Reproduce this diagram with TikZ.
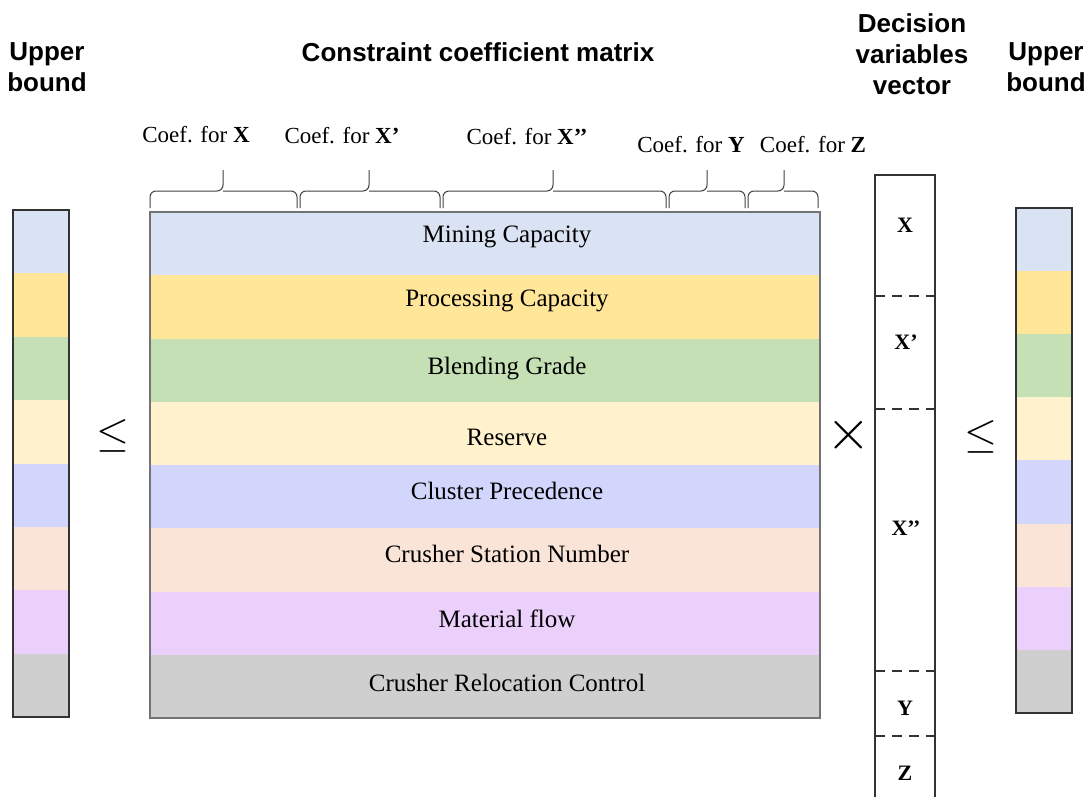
\documentclass[tikz,border=0pt]{standalone}
\usepackage{amsmath}
\usepackage{graphicx}
\usepackage{fontspec}
\setmainfont{Liberation Serif}
\newfontfamily\headfont{Liberation Sans}
\usetikzlibrary{calc}

\definecolor{rowA}{HTML}{DAE3F3}
\definecolor{rowB}{HTML}{FFE699}
\definecolor{rowC}{HTML}{C5E0B4}
\definecolor{rowD}{HTML}{FFF2CC}
\definecolor{rowE}{HTML}{D2D5FC}
\definecolor{rowF}{HTML}{FAE4D7}
\definecolor{rowG}{HTML}{EAD0FA}
\definecolor{rowH}{HTML}{D0CFCF}

\tikzset{
  header/.style = {font=\headfont\bfseries\fontsize{26}{31}\selectfont, align=center},
  rowtext/.style = {font=\fontsize{25}{30}\selectfont},
  coeftext/.style = {font=\fontsize{23}{27}\selectfont},
  vartext/.style = {font=\bfseries\fontsize{22}{26}\selectfont},
  relsign/.style = {font=\fontsize{24}{24}\selectfont},
  coefbrace/.style = {draw=black!75, line width=1pt, rounded corners=6pt},
  bar/.style = {draw=black!80, line width=2pt},
  cut/.style = {draw=black!80, line width=1.6pt, dash pattern=on 10pt off 7pt}
}

\newcommand{\coefbrace}[3]{%
  \draw[coefbrace] (#1, 208) -- (#1, 191) -- (#2, 191) -- (#2, 170)
    (#2, 191) -- (#3, 191) -- (#3, 208);}

\begin{document}
\begin{tikzpicture}[x=1pt, y=-1pt]
\useasboundingbox (0, 0) rectangle (1086, 797);

% colour rows of both bounds and of the matrix
\foreach \c [count=\i from 0] in {rowA, rowB, rowC, rowD, rowE, rowF, rowG, rowH} {
  \fill[\c] (13, {210 + 63.4*\i}) rectangle (69, {210 + 63.4*(\i+1)});
  \fill[\c] (150, {212 + 63.25*\i}) rectangle (820, {212 + 63.25*(\i+1)});
  \fill[\c] (1016, {208 + 63.1*\i}) rectangle (1072, {208 + 63.1*(\i+1)});
}
\draw[bar] (13, 210) rectangle (69, 717);
\draw[draw=black!55, line width=2pt] (150, 212) rectangle (820, 718);
\draw[bar] (1016, 208) rectangle (1072, 713);

\node[rowtext] (mining) at (507, 237) {Mining Capacity};
\node[rowtext] (processing) at (507, 301) {Processing Capacity};
\node[rowtext] (blending) at (507, 369) {Blending Grade};
\node[rowtext] (reserve) at (507, 437) {Reserve};
\node[rowtext] (cluster) at (507, 491) {Cluster Precedence};
\node[rowtext] (station) at (507, 554) {Crusher Station Number};
\node[rowtext] (flow) at (507, 619) {Material flow};
\node[rowtext] (relocation) at (507, 683) {Crusher Relocation Control};

% braces over the column blocks
\coefbrace{150}{223}{297}
\coefbrace{300}{369}{440}
\coefbrace{443}{553}{666}
\coefbrace{669}{707}{745}
\coefbrace{748}{784}{818}
\node[coeftext] (coefX) at (196, 135) {Coef. for \textbf{X}};
\node[coeftext] (coefXa) at (342, 136) {Coef. for \textbf{X’}};
\node[coeftext] (coefXb) at (527, 137) {Coef. for \textbf{X’’}};
\node[coeftext] (coefY) at (691, 145) {Coef. for \textbf{Y}};
\node[coeftext] (coefZ) at (813, 145) {Coef. for \textbf{Z}};

% decision variables vector
\draw[draw=black!80, line width=1.6pt] (875, 800) -- (875, 175) -- (935, 175) -- (935, 800);
\draw[cut] (875, 296) -- (935, 296);
\draw[cut] (875, 409) -- (935, 409);
\draw[cut] (875, 671) -- (935, 671);
\draw[cut] (875, 736) -- (935, 736);
\node[vartext] (varX) at (905, 225) {X};
\node[vartext] (varXa) at (906, 342) {X’};
\node[vartext] (varXb) at (906, 528) {X’’};
\node[vartext] (varY) at (905, 708) {Y};
\node[vartext] (varZ) at (905, 773) {Z};

\node[relsign] (leqL) at (113, 436) {\scalebox{1.7}{$\leq$}};
\node[relsign] (times) at (849, 435) {\scalebox{2.3}{$\times$}};
\node[relsign] (leqR) at (981, 437) {\scalebox{1.7}{$\leq$}};

\node[header] (boundL) at (47, 67) {Upper\\bound};
\node[header] (coefhead) at (478, 52) {Constraint coefficient matrix};
\node[header] (dvhead) at (912, 54) {Decision\\variables\\vector};
\node[header] (boundR) at (1046, 67) {Upper\\bound};
\end{tikzpicture}
\end{document}
